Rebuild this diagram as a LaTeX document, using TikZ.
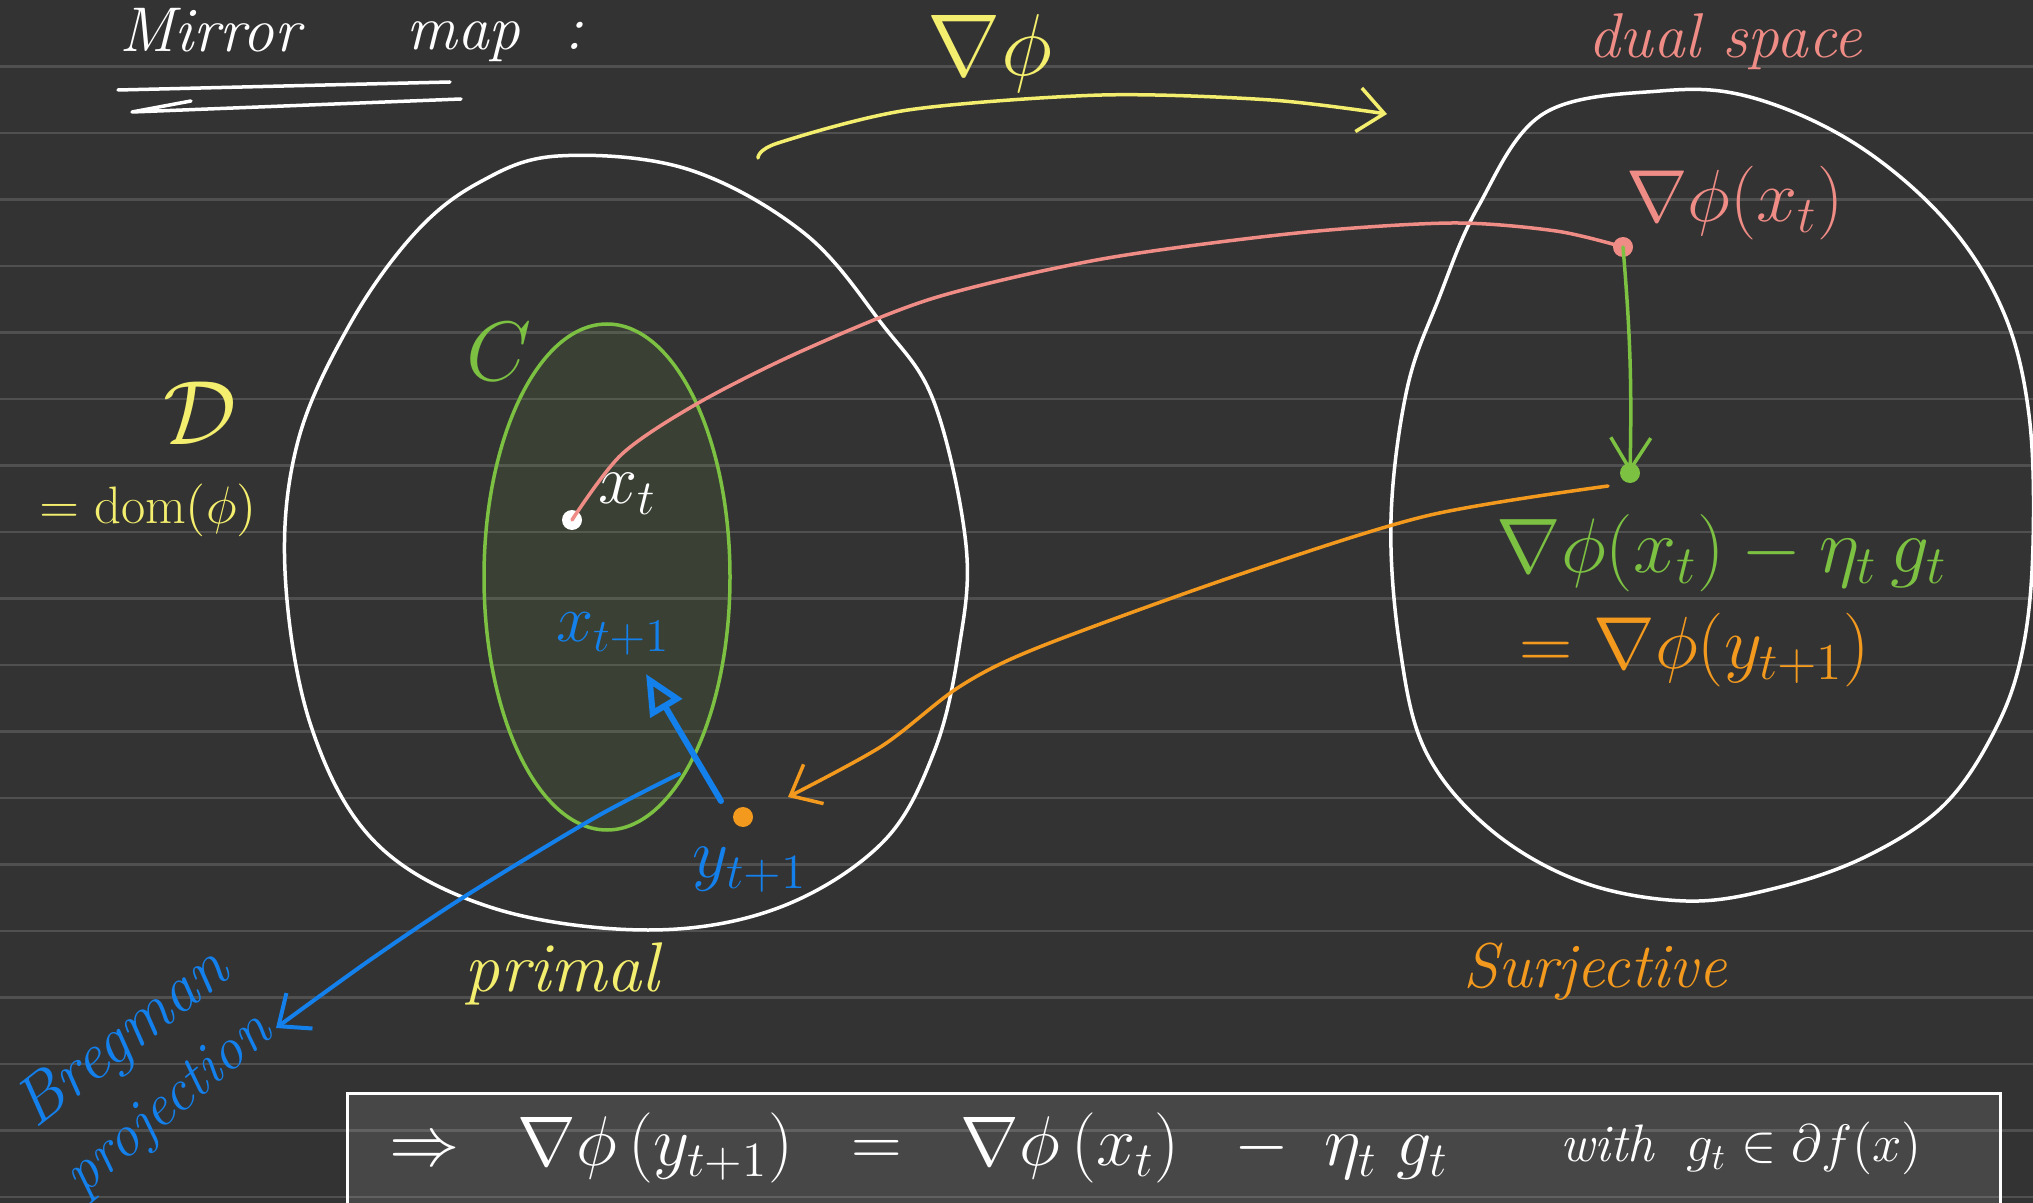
\RequirePackage{fix-cm}
\documentclass[tikz,border=0pt]{standalone}
\usepackage{amsmath,amssymb}
\usepackage{fontspec}
\usepackage{tikz}
\usetikzlibrary{arrows.meta,positioning,shapes.geometric}
\definecolor{board}{HTML}{333333}
\definecolor{ruleline}{HTML}{505050}
\definecolor{chalk}{HTML}{FFFFFF}
\definecolor{lemon}{HTML}{F4EE6E}
\definecolor{salmon}{HTML}{F08C86}
\definecolor{leaf}{HTML}{7CC142}
\definecolor{amber}{HTML}{F39A1E}
\definecolor{azure}{HTML}{1380EC}
\newcommand{\handsize}[1]{\fontsize{#1}{#1}\selectfont}
\tikzset{
  pen/.style={line width=0.35mm,line cap=round,line join=round},
  spot/.style={circle,fill=#1,inner sep=0pt,minimum size=2mm},
  label/.style={inner sep=1pt},
  barb/.style={-{Straight Barb[length=2.6mm,width=4.4mm]}},
  setbox/.style={ellipse,draw=leaf,fill=leaf,fill opacity=0.1,line width=0.35mm,
    minimum width=24.6mm,minimum height=50.6mm,inner sep=0pt},
}

\begin{document}
\begin{tikzpicture}[x=0.1mm,y=-0.1mm]
  \clip (0,0) rectangle (2033,1203);
  \fill[board] (0,0) rectangle (2033,1203);
  \foreach \k in {1,...,18}
    \draw[ruleline,line width=0.25mm] (0,66.5*\k) -- (2033,66.5*\k);

  \node[label,text=chalk,font=\handsize{18}\itshape] (mirror) at (210,30) {Mirror};
  \node[label,text=chalk,font=\handsize{18}\itshape] (mapword) at (495,42) {map\ \ :};
  \draw[chalk,pen] (118,90) -- (450,82);
  \draw[chalk,pen] (191,101) -- (132,112) -- (461,99);
  \node[label,text=lemon,font=\handsize{25}] (gradmap) at (990,54) {$\nabla\phi$};
  \node[label,text=salmon,font=\handsize{18}\itshape] (dual) at (1725,42) {dual space};

  \draw[chalk,pen] plot[smooth cycle,tension=0.6] coordinates {
    (558,156) (687,169) (804,233) (882,324) (934,402) (966,545) (959,648)
    (934,752) (882,843) (778,908) (648,930) (493,908) (376,843) (311,726)
    (285,571) (298,441) (350,324) (415,233) (480,182)};
  \draw[chalk,pen] plot[smooth cycle,tension=0.6] coordinates {
    (1543,114) (1660,91) (1750,97) (1854,143) (1945,220) (2003,311)
    (2029,415) (2033,545) (2023,648) (1997,726) (1945,804) (1867,856)
    (1776,888) (1686,901) (1582,882) (1491,830) (1426,752) (1400,648)
    (1391,519) (1407,389) (1439,298) (1478,207)};

  \node[setbox] (setC) at (607,577) {};
  \node[label,text=leaf,font=\handsize{24}] (Clabel) at (499,352) {$C$};
  \node[label,text=lemon,font=\handsize{26}] (Dlabel) at (200,413) {$\mathcal{D}$};
  \node[label,text=lemon,font=\handsize{15}] (dom) at (148,510) {$=\mathrm{dom}(\phi)$};

  \node[spot=chalk] (xt) at (572,520) {};
  \node[label,text=chalk,font=\handsize{20}] (xtlabel) at (628,494) {$x_t$};
  \node[spot=salmon] (gx) at (1623,247) {};
  \node[label,text=salmon,font=\handsize{21}] (gxlabel) at (1735,203) {$\nabla\phi(x_t)$};
  \node[spot=leaf] (gstep) at (1630,473) {};
  \node[label,text=leaf,font=\handsize{22}] (steplabel) at (1722,553) {$\nabla\phi(x_t)-\eta_t\,g_t$};
  \node[label,text=amber,font=\handsize{21}] (ylabel) at (1695,650) {$=\nabla\phi(y_{t+1})$};
  \node[spot=amber] (yt) at (743,817) {};
  \node[label,text=azure,font=\handsize{20}] (ytlabel) at (750,870) {$y_{t+1}$};
  \node[label,text=azure,font=\handsize{19}] (xnext) at (613,634) {$x_{t+1}$};
  \coordinate (xnexttip) at (646,674);
  \coordinate (projstart) at (721,801);
  \coordinate (ostart) at (1608,486);
  \coordinate (otip) at (788,797);
  \coordinate (bstart) at (679,774);
  \coordinate (btip) at (276,1028);
  \coordinate (ystart) at (758,158);
  \coordinate (ytip) at (1387,114);

  \draw[lemon,pen,barb] plot[smooth] coordinates {
    (ystart) (778,143) (908,110) (1102,95) (1271,100) (ytip)};
  \draw[salmon,pen] plot[smooth] coordinates {
    (xt.center) (622,454) (700,402) (804,350) (934,298) (1102,259)
    (1297,233) (1452,223) (1556,231) (gx.center)};
  \draw[leaf,pen,-{Straight Barb[length=3.2mm,width=4mm]}] (gx.center) to[bend left=3] (gstep.center);
  \draw[amber,pen,barb] plot[smooth] coordinates {
    (ostart) (1426,516) (1232,577) (1037,648) (959,687) (882,746) (otip)};
  \draw[azure,line width=0.6mm,line cap=round,-{Triangle[open,length=4mm,width=3.6mm]}] (projstart) -- (xnexttip);
  \draw[azure,pen,line width=0.4mm,barb] plot[smooth] coordinates {
    (bstart) (596,817) (467,895) (370,960) (btip)};

  \node[label,inner sep=0pt,text=azure,font=\handsize{19}\itshape,rotate=38] (bregman) at (124,1040) {Bregman};
  \node[label,inner sep=0pt,text=azure,font=\handsize{17}\itshape,rotate=40] (projection) at (170,1106) {projection};
  \node[label,text=lemon,font=\handsize{20}\itshape] (primal) at (562,974) {primal};
  \node[label,text=amber,font=\handsize{18}\itshape] (surj) at (1595,972) {Surjective};

  \draw[chalk,line width=0.3mm,fill=white,fill opacity=0.1] (347,1093) rectangle (2000,1240);
  \node[label,text=chalk,font=\handsize{20}] (update) at (919,1148)
    {$\Rightarrow\;\;\nabla\phi\,(y_{t+1})\;\;=\;\;\nabla\phi\,(x_t)\;\;-\;\eta_t\;g_t$};
  \node[label,text=chalk,font=\handsize{15}] (subgrad) at (1741,1148)
    {\textit{with} \ $g_t\in\partial f(x)$};
\end{tikzpicture}
\end{document}
